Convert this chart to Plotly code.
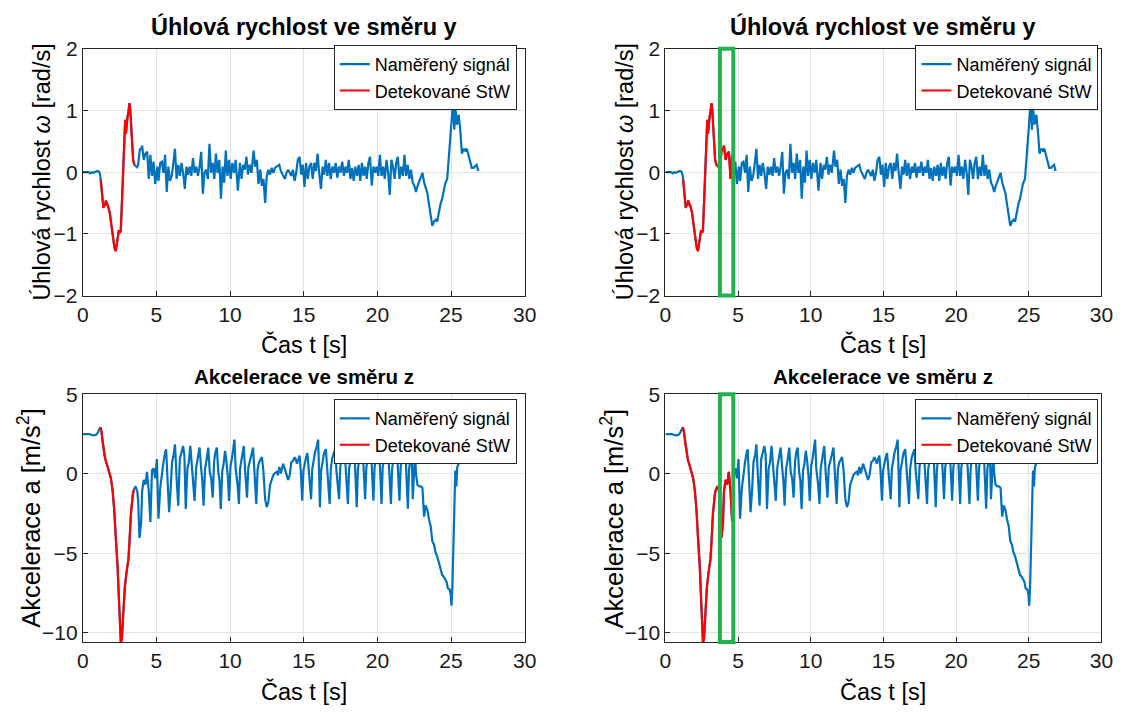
import plotly.graph_objects as go

# ---------------------------------------------------------------------------
# Measured signals
# ---------------------------------------------------------------------------
# Angular rate about the y axis [rad/s]
t_gyro = [
    0.0, 0.1, 0.2, 0.3, 0.4, 0.5, 0.6, 0.7, 0.8, 0.9, 1.0, 1.1, 1.18,
    1.22, 1.27, 1.33, 1.4, 1.45, 1.5, 1.57, 1.65, 1.73, 1.82, 1.9, 1.98, 2.07,
    2.15, 2.24, 2.3, 2.38, 2.45, 2.52, 2.58, 2.64, 2.7, 2.77, 2.83, 2.88, 2.93,
    2.98, 3.03, 3.1, 3.17, 3.22, 3.28, 3.35, 3.42, 3.5,
    3.59, 3.68, 3.76, 3.88, 3.95, 4.03, 4.14, 4.25, 4.37, 4.48, 4.59, 4.7,
    4.81, 4.92, 5.06, 5.14, 5.26, 5.37, 5.48, 5.59, 5.7, 5.81, 5.92, 6.04,
    6.15, 6.26, 6.37, 6.48, 6.59, 6.7, 6.81, 6.93, 7.04, 7.15, 7.26, 7.37,
    7.48, 7.59, 7.71, 7.82, 7.93, 8.04, 8.15, 8.26, 8.37, 8.49, 8.6, 8.71,
    8.82, 8.93, 9.04, 9.15, 9.27, 9.38, 9.49, 9.6, 9.71, 9.82, 9.93, 10.04,
    10.15, 10.27, 10.38, 10.53, 10.67, 10.78, 10.89, 11.0, 11.11, 11.22,
    11.33, 11.45, 11.6, 11.7, 11.82, 11.93, 12.05, 12.16, 12.27, 12.38,
    12.49, 12.6, 12.71, 12.83, 12.94, 13.05, 13.16, 13.34, 13.45, 13.56,
    13.72, 13.83, 13.94, 14.05, 14.16, 14.27, 14.38, 14.49, 14.6, 14.72,
    14.83, 14.94, 15.05, 15.16, 15.27, 15.39, 15.5, 15.61, 15.72, 15.83,
    15.94, 16.05, 16.17, 16.28, 16.39, 16.5, 16.61, 16.72, 16.83, 16.95,
    17.06, 17.17, 17.28, 17.39, 17.5, 17.61, 17.73, 17.84, 17.95, 18.06,
    18.17, 18.28, 18.39, 18.5, 18.62, 18.73, 18.84, 18.95, 19.06, 19.17,
    19.28, 19.39, 19.5, 19.62, 19.73, 19.84, 19.95, 20.06, 20.17, 20.28,
    20.39, 20.5, 20.62, 20.73, 20.84, 20.95, 21.06, 21.17, 21.28, 21.39,
    21.5, 21.62, 21.73, 21.84, 21.95, 22.06, 22.17, 22.28, 22.4, 22.51,
    22.62, 22.73, 22.84, 22.95, 23.06, 23.18, 23.28, 23.4, 23.51, 23.62,
    23.73, 23.84, 23.96, 24.06, 24.17, 24.3, 24.4, 24.5, 24.6, 24.74, 24.85,
    24.96, 25.07, 25.13, 25.22, 25.3, 25.4, 25.52, 25.63, 25.74, 25.85,
    25.96, 26.07, 26.19, 26.3, 26.41, 26.52, 26.63, 26.74, 26.85,
]
omega_y = [
    0.0, 0.0, -0.01, 0.0, 0.0, -0.02, 0.0, -0.01, 0.0, 0.01, 0.02, 0.01, -0.04,
    -0.12, -0.22, -0.38, -0.58, -0.5, -0.55, -0.46, -0.5, -0.56, -0.64, -0.8,
    -0.98, -1.12, -1.22, -1.28, -1.18, -1.02, -0.94, -0.98, -0.95, -0.6, -0.22,
    0.3, 0.62, 0.85, 0.62, 0.8, 0.88, 0.98, 1.12, 1.02, 0.75, 0.45, 0.2, 0.12,
    0.09, 0.08, 0.12, 0.38, 0.36, 0.43, 0.2, 0.3, 0.33, -0.11, 0.28, -0.06,
    0.17, -0.19, 0.09, -0.14, 0.15, 0.17, -0.01, 0.28, -0.32, 0.09, -0.14,
    -0.06, 0.15, 0.38, -0.11, 0.12, -0.06, 0.15, -0.01, -0.27, 0.09, -0.04,
    0.09, -0.06, 0.23, -0.01, 0.09, -0.06, 0.09, 0.33, -0.35, -0.01, 0.04,
    -0.11, 0.46, -0.01, 0.15, -0.11, 0.3, -0.01, 0.2, -0.43, 0.09, -0.17,
    0.35, -0.06, 0.2, -0.11, 0.15, -0.01, 0.2, -0.3, 0.15, -0.11, 0.12, 0.04,
    0.25, -0.04, 0.12, -0.01, 0.35, 0.09, 0.2, -0.19, 0.04, -0.22, -0.11,
    -0.5, -0.06, 0.04, -0.04, 0.07, -0.01, 0.07, 0.09, 0.12, 0.02, -0.04,
    -0.11, -0.01, 0.04, -0.01, -0.06, 0.04, -0.14, -0.01, 0.2, 0.25, -0.04,
    0.12, -0.24, 0.15, -0.11, 0.09, 0.15, -0.11, 0.15, 0.02, 0.3, -0.01,
    -0.27, 0.09, -0.04, 0.2, -0.06, 0.15, -0.11, 0.09, -0.01, 0.15, -0.09,
    0.09, -0.01, 0.17, -0.06, 0.09, -0.01, 0.2, -0.11, 0.07, -0.14, 0.09,
    -0.06, 0.12, -0.14, 0.15, -0.06, 0.09, -0.11, 0.15, 0.25, -0.22, 0.09,
    -0.01, 0.09, -0.06, 0.28, -0.06, 0.09, -0.11, 0.2, -0.01, -0.37, 0.2,
    0.09, -0.11, 0.15, 0.25, -0.11, 0.09, -0.06, 0.28, -0.06, 0.12, -0.11,
    0.04, -0.17, -0.22, -0.32, -0.22, -0.14, -0.06, -0.01, -0.17, -0.24,
    -0.35, -0.53, -0.69, -0.87, -0.8, -0.77, -0.8, -0.64, -0.5, -0.43, -0.27,
    -0.19, -0.11, 0.25, 0.46, 0.98, 1.13, 0.69, 1.03, 0.77, 0.93, 0.67, 0.3,
    0.38, 0.35, 0.38, 0.28, 0.2, 0.07, 0.07, 0.09, 0.12, 0.02,
]

# Acceleration along the z axis [m/s^2]
t_acc = [
    0.0, 0.15, 0.3, 0.45, 0.6, 0.75, 0.9, 1.0, 1.1, 1.2, 1.27, 1.36, 1.47,
    1.55, 1.63, 1.72, 1.8, 1.91, 2.03, 2.14, 2.25, 2.36, 2.47, 2.58, 2.65,
    2.74, 2.85, 2.96, 3.1, 3.18, 3.27, 3.4, 3.47, 3.58, 3.7, 3.76, 3.85, 3.96,
    4.03, 4.14, 4.25, 4.36, 4.48, 4.59, 4.7, 4.81, 4.92, 5.03, 5.14, 5.26,
    5.37, 5.48, 5.59, 5.66, 5.75, 5.86, 5.96, 6.06, 6.17, 6.26, 6.37, 6.48,
    6.59, 6.7, 6.81, 6.9, 6.99, 7.1, 7.2, 7.3, 7.4, 7.48, 7.59, 7.7, 7.8,
    7.93, 8.02, 8.12, 8.2, 8.3, 8.4, 8.52, 8.62, 8.72, 8.82, 8.92, 9.0, 9.1,
    9.2, 9.28, 9.37, 9.47, 9.55, 9.66, 9.76, 9.85, 9.93, 10.03, 10.12, 10.22,
    10.3, 10.38, 10.5, 10.6, 10.68, 10.76, 10.85, 10.93, 11.02, 11.15, 11.24,
    11.34, 11.45, 11.56, 11.65, 11.78, 11.87, 11.96, 12.06, 12.16, 12.26,
    12.38, 12.49, 12.6, 12.71, 12.82, 12.94, 13.05, 13.16, 13.25, 13.34,
    13.45, 13.52, 13.6, 13.7, 13.78, 13.87, 13.94, 14.05, 14.16, 14.27,
    14.38, 14.46, 14.54, 14.63, 14.72, 14.8, 14.9, 14.98, 15.06, 15.15,
    15.25, 15.33, 15.42, 15.5, 15.58, 15.68, 15.78, 15.88, 15.98, 16.04,
    16.1, 16.18, 16.28, 16.38, 16.5, 16.6, 16.68, 16.76, 16.84, 16.94,
    17.04, 17.14, 17.22, 17.3, 17.4, 17.48, 17.58, 17.68, 17.76, 17.84, 18.0,
    18.08, 18.18, 18.3, 18.42, 18.5, 18.6, 18.68, 18.78, 18.88, 18.98, 19.06,
    19.17, 19.25, 19.35, 19.45, 19.55, 19.63, 19.73, 19.81, 19.91, 20.01,
    20.11, 20.19, 20.28, 20.36, 20.46, 20.56, 20.68, 20.8, 20.92, 21.0, 21.1,
    21.2, 21.3, 21.4, 21.5, 21.58, 21.68, 21.78, 21.88, 21.98, 22.07, 22.15,
    22.25, 22.33, 22.4, 22.48, 22.56, 22.62, 22.72, 22.85, 22.95, 23.06,
    23.17, 23.28, 23.4, 23.51, 23.62, 23.73, 23.84, 23.95, 24.06, 24.17,
    24.28, 24.4, 24.51, 24.62, 24.7, 24.78, 24.91, 24.98, 25.03, 25.09,
    25.18, 25.24, 25.29, 25.36, 25.42, 25.5, 25.58, 25.66, 25.74, 25.85,
    25.95, 26.1, 26.3, 26.5, 26.7, 26.85,
]
acc_z = [
    2.5, 2.49, 2.52, 2.5, 2.44, 2.42, 2.45, 2.55, 2.75, 2.93, 2.66, 1.95, 1.14,
    0.85, 0.63, 0.35, 0.12, -0.28, -1.1, -2.32, -4.15, -5.77, -8.2, -10.6,
    -10.45, -8.82, -7.2, -6.28, -5.37, -4.15, -2.52, -1.3, -1.0, -0.79, -1.1,
    -1.71, -4.04, -3.13, -1.1, -0.39, -0.69, 0.12, -1.1, -3.03, 0.22, 0.33,
    -0.28, 0.93, -2.83, -0.89, 0.02, 0.73, 1.34, 1.54, -0.28, -2.42, -1.1,
    0.73, 1.2, 1.85, -0.28, -2.01, 0.93, 1.3, 1.75, 1.14, -2.22, 0.3, 0.73,
    1.75, 0.53, -0.3, -1.71, 0.4, 0.93, 1.65, 0.53, -0.5, -2.01, 0.3, 0.83,
    1.65, 0.12, -0.3, -1.5, 0.8, 1.34, 1.65, 0.12, -0.4, -2.22, 0.2, 0.53,
    1.44, 0.73, -0.2, -1.71, 0.5, 0.93, 1.6, 2.15, 0.3, -0.6, -1.9, 0.3, 0.8,
    1.3, 1.75, 0.2, -1.5, 0.4, 0.9, 1.2, 1.65, 0.0, -1.9, 0.3, 0.7, 0.9,
    1.04, 0.2, -1.6, -2.1, -1.8, -0.7, -0.4, -0.08, 0.05, 0.12, -0.1, 0.43,
    0.02, 0.3, 0.63, 0.35, 0.12, -0.2, -0.39, -0.08, 0.73, 0.8, 1.04, 0.9,
    0.63, 0.9, 1.14, 0.2, -1.7, 0.2, 0.7, 1.0, 1.3, 0.3, -0.4, -1.6, 0.3, 0.9,
    1.4, 1.7, 2.15, 0.2, -2.1, 0.2, 0.9, 1.3, 1.55, 0.1, -0.5, -1.9, 0.3, 1.0,
    1.3, 1.55, 0.2, -0.5, -1.6, 0.4, 1.0, 1.5, 1.7, 0.2, -1.9, 0.3, 1.0, 1.6,
    1.9, 0.3, -2.1, 0.3, 1.1, 1.7, 1.9, 0.2, -1.6, 0.4, 1.0, 1.5, 1.8, 0.2,
    -1.7, 0.4, 1.1, 1.6, 1.9, 0.2, -1.9, 0.4, 1.0, 1.5, 1.8, 0.3, -1.9, 0.3,
    1.0, 1.6, 1.9, 0.2, -1.7, 0.4, 1.1, 1.6, 1.9, 0.1, -2.2, 0.3, 1.0, 1.4,
    -1.6, 0.4, 1.3, 0.0, -0.7, -0.8, -0.8, -0.9, -2.7, -2.0, -2.3, -2.9,
    -3.3, -4.25, -4.45, -4.96, -5.2, -5.57, -5.9, -6.38, -6.48, -6.7, -6.8,
    -7.2, -7.3, -7.6, -8.3, -7.2, -3.94, -1.5, 0.2, -0.8, 0.4, 0.6, 0.83,
    0.9, 1.04, 1.24, 1.4, 1.7, 2.0, 2.2, 2.3, 2.4,
]

# Detected StW windows [s]: left column, right column
stw_left = (1.2, 3.5)
stw_right = (1.2, 4.6)
# Highlighted interval in the right column [s]
highlight = (3.75, 4.67)

BLUE = "#0072BD"
RED = "#FF0000"
GREEN = "#22B14C"
FONT = "Liberation Sans, Arial, sans-serif"
W, H = 1140, 717
TICK_SIZE = 21
LABEL_SIZE = 23.5


def window(t, v, lo, hi):
    pts = [(a, b) for a, b in zip(t, v) if lo <= a <= hi]
    return [p[0] for p in pts], [p[1] for p in pts]


# Plot areas in pixels: (left, right, top, bottom)
boxes = {
    1: (78, 527, 38, 293),
    2: (670, 1113, 38, 293),
    3: (78, 527, 395, 651),
    4: (670, 1113, 395, 651),
}

panels = [
    # idx, t, v, window, legend id
    (1, t_gyro, omega_y, stw_left, "legend"),
    (2, t_gyro, omega_y, stw_right, "legend2"),
    (3, t_acc, acc_z, stw_left, "legend3"),
    (4, t_acc, acc_z, stw_right, "legend4"),
]

fig = go.Figure()
layout = {}
annotations = []
shapes = []

for idx, t, v, win, leg in panels:
    sx = "" if idx == 1 else str(idx)
    xa, ya = "x" + sx, "y" + sx
    top_row = idx <= 2
    fig.add_trace(go.Scatter(
        x=t, y=v, mode="lines", name="Naměřený signál",
        line=dict(color=BLUE, width=2.2), xaxis=xa, yaxis=ya, legend=leg,
    ))
    rt, rv = window(t, v, *win)
    fig.add_trace(go.Scatter(
        x=rt, y=rv, mode="lines", name="Detekované StW",
        line=dict(color=RED, width=2.2), xaxis=xa, yaxis=ya, legend=leg,
    ))

    l, r, tp, bt = boxes[idx]
    axis_common = dict(
        showline=True, mirror=True, linecolor="#262626", linewidth=1,
        ticks="inside", ticklen=5, tickcolor="#262626",
        showgrid=True, gridcolor="#E3E3E3", gridwidth=1, zeroline=False,
        tickfont=dict(family=FONT, size=TICK_SIZE, color="#1A1A1A"),
    )
    layout["xaxis" + sx] = dict(
        axis_common, domain=[l / W, r / W], anchor=ya,
        range=[0, 30], tickvals=[0, 5, 10, 15, 20, 25, 30],
    )
    if top_row:
        yr, yt = [-2, 2], [-2, -1, 0, 1, 2]
    else:
        yr, yt = [-10.6, 5], [-10, -5, 0, 5]
    layout["yaxis" + sx] = dict(
        axis_common, domain=[1 - bt / H, 1 - tp / H], anchor=xa,
        range=yr, tickvals=yt,
    )

    # legend box, top-right corner of each panel
    leg_right = 519 if idx % 2 else 1110
    leg_top = 34 if top_row else 400
    layout[leg] = dict(
        x=leg_right / W, y=1 - leg_top / H,
        xanchor="right", yanchor="top",
        bgcolor="white", bordercolor="#262626", borderwidth=1,
        font=dict(family=FONT, size=18, color="#000000"),
        tracegroupgap=0,
    )

    cx = (l + r) / 2 / W
    title = "Úhlová rychlost ve směru y" if top_row else "Akcelerace ve směru z"
    annotations.append(dict(
        text=f"<b>{title}</b>", x=cx, y=1 - (15 if top_row else 377) / H,
        xref="paper", yref="paper", showarrow=False,
        xanchor="center", yanchor="middle",
        font=dict(family=FONT, size=LABEL_SIZE if top_row else 20.5,
                  color="#000000"),
    ))
    annotations.append(dict(
        text="Čas t [s]", x=cx, y=1 - (bt + 51) / H,
        xref="paper", yref="paper", showarrow=False,
        xanchor="center", yanchor="middle",
        font=dict(family=FONT, size=LABEL_SIZE, color="#000000"),
    ))
    ylab = "Úhlová rychlost <i>ω</i> [rad/s]" if top_row else "Akcelerace a [m/s<sup>2</sup>]"
    yx = (l - 41) if top_row else (l - 54)
    annotations.append(dict(
        text=ylab, x=yx / W, y=1 - (tp + bt) / 2 / H,
        xref="paper", yref="paper", showarrow=False, textangle=-90,
        xanchor="center", yanchor="middle",
        font=dict(family=FONT, size=LABEL_SIZE if top_row else 25.5,
                  color="#000000"),
    ))

    if idx % 2 == 0:
        shapes.append(dict(
            type="rect", xref=xa, yref=ya + " domain",
            x0=highlight[0], x1=highlight[1], y0=0, y1=1,
            line=dict(color=GREEN, width=4), fillcolor="rgba(0,0,0,0)",
            layer="above",
        ))

fig.update_layout(
    width=W, height=H,
    margin=dict(l=0, r=0, t=0, b=0),
    paper_bgcolor="white", plot_bgcolor="white",
    font=dict(family=FONT, size=20, color="#000000"),
    annotations=annotations, shapes=shapes,
    **layout,
)

fig.write_html("out.html")
